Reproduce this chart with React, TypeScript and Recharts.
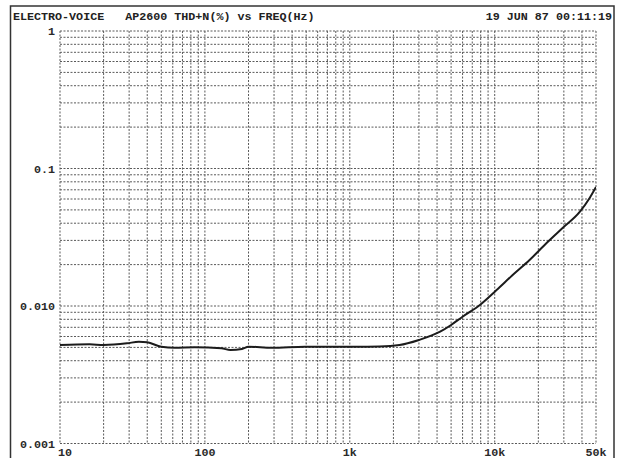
import React from 'react';
import { LineChart, Line, XAxis, YAxis, CartesianGrid } from 'recharts';

const freqs = [10, 16, 20, 29, 35, 40, 50, 62, 85, 130, 150, 180, 200, 290, 490, 1100, 1600, 2200, 3000, 4200, 5000, 6000, 7900, 10300, 13300, 17400, 22800, 29400, 38600, 45200, 50000];
const thdn = [0.0052, 0.00527, 0.0052, 0.00535, 0.0055, 0.00544, 0.00506, 0.00497, 0.00501, 0.00492, 0.00479, 0.00487, 0.00506, 0.00497, 0.00506, 0.00506, 0.00508, 0.0052, 0.00566, 0.0065, 0.00728, 0.00836, 0.01017, 0.01306, 0.0168, 0.0216, 0.0287, 0.0369, 0.0483, 0.061, 0.0733];

const xTicks = [10, 20, 30, 40, 50, 60, 70, 80, 90, 100, 200, 300, 400, 500, 600, 700, 800, 900, 1000, 2000, 3000, 4000, 5000, 6000, 7000, 8000, 9000, 10000, 20000, 30000, 40000, 50000];
const xLabels: Record<number, string> = { 10: '10', 100: '100', 1000: '1k', 10000: '10k', 50000: '50k' };
const yTicks = [0.001, 0.002, 0.003, 0.004, 0.005, 0.006, 0.007, 0.008, 0.009, 0.01, 0.02, 0.03, 0.04, 0.05, 0.06, 0.07, 0.08, 0.09, 0.1, 0.2, 0.3, 0.4, 0.5, 0.6, 0.7, 0.8, 0.9, 1];
const yLabels: Record<string, string> = { '0.001': '0.001', '0.01': '0.010', '0.1': '0.1', '1': '1' };

const titleLeft = 'ELECTRO-VOICE   AP2600 THD+N(%) vs FREQ(Hz)';
const titleRight = '19 JUN 87 00:11:19';

const data = freqs.map((f, i) => ({ f, v: thdn[i] }));

const FONT = "'Liberation Mono', 'DejaVu Sans Mono', monospace";

const XTick = (props: any) => {
  const { x, y, payload } = props;
  const lab = xLabels[payload.value];
  if (!lab) return <g />;
  const start = payload.value === 10;
  return (
    <text x={start ? x - 2 : x} y={y + 12} textAnchor={start ? 'start' : 'middle'} fontFamily={FONT} fontWeight="bold" fontSize={11.7} fill="#2a2a2a">
      {lab}
    </text>
  );
};

const YTick = (props: any) => {
  const { x, y, payload } = props;
  const key = String(Number(payload.value.toPrecision(3)));
  const lab = yLabels[key];
  if (!lab) return <g />;
  return (
    <text x={x - 5} y={y} dy="0.35em" textAnchor="end" fontFamily={FONT} fontWeight="bold" fontSize={11.7} fill="#2a2a2a">
      {lab}
    </text>
  );
};

export default function App() {
  return (
    <div style={{ position: 'absolute', left: 0, top: 0, width: 621, height: 458, background: '#fff', overflow: 'hidden' }}>
      <LineChart width={621} height={458} data={data} margin={{ top: 31, right: 25, left: 0, bottom: 0 }}>
        <CartesianGrid stroke="#5a5a5a" strokeDasharray="2 1.5" strokeWidth={1} />
        <XAxis
          dataKey="f"
          type="number"
          scale="log"
          domain={[10, 50000]}
          ticks={xTicks}
          interval={0}
          allowDataOverflow
          axisLine={false}
          tickLine={false}
          tickSize={0}
          tickMargin={0}
          height={14.5}
          tick={<XTick />}
        />
        <YAxis
          type="number"
          scale="log"
          domain={[0.001, 1]}
          ticks={yTicks}
          interval={0}
          allowDataOverflow
          axisLine={false}
          tickLine={false}
          tickSize={0}
          tickMargin={0}
          width={60}
          tick={<YTick />}
        />
        <Line dataKey="v" type="monotone" stroke="#1c1c1c" strokeWidth={2} dot={false} isAnimationActive={false} />
      </LineChart>
      <svg width={621} height={458} style={{ position: 'absolute', left: 0, top: 0, pointerEvents: 'none' }}>
        <rect x={10.5} y={6} width={603.5} height={470} fill="none" stroke="#333" strokeWidth={1.5} />
        <text x={13} y={20} fontFamily={FONT} fontWeight="bold" fontSize={11.7} fill="#222" style={{ whiteSpace: 'pre' }}>
          {titleLeft}
        </text>
        <text x={612} y={20} textAnchor="end" fontFamily={FONT} fontWeight="bold" fontSize={11.7} fill="#222" style={{ whiteSpace: 'pre' }}>
          {titleRight}
        </text>
      </svg>
    </div>
  );
}
